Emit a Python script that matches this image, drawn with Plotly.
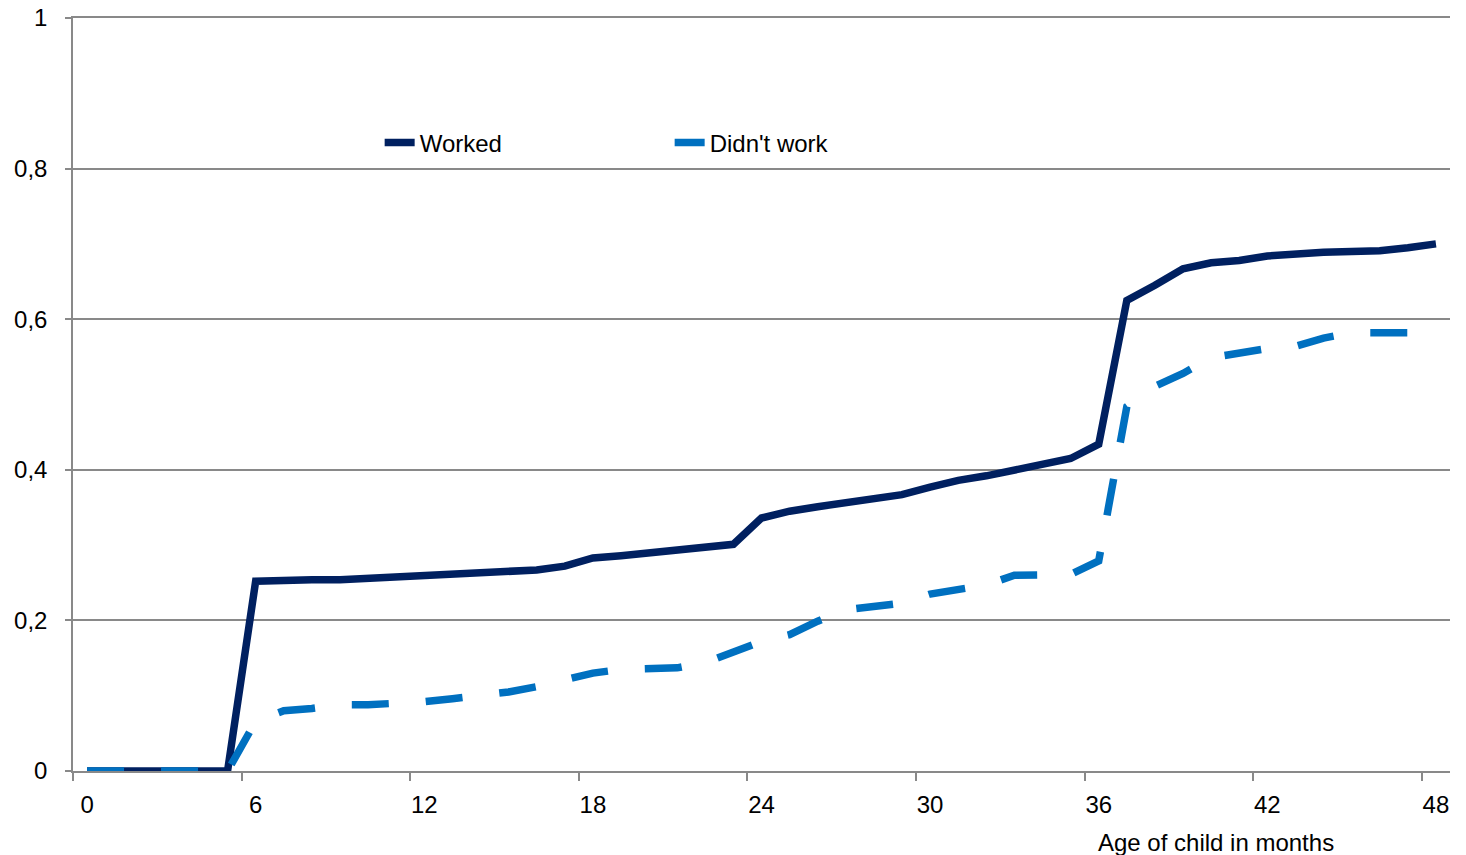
import plotly.graph_objects as go

months = list(range(0, 49))
worked = [0, 0, 0, 0, 0, 0,
          0.252, 0.254, 0.254, 0.254, 0.256, 0.257, 0.260, 0.262, 0.262, 0.264,
          0.267, 0.272, 0.283, 0.286, 0.290, 0.295, 0.297, 0.301, 0.336, 0.345,
          0.351, 0.357, 0.362, 0.367, 0.377, 0.386, 0.392, 0.400, 0.406, 0.415,
          0.434, 0.625, 0.645, 0.667, 0.675, 0.678, 0.684, 0.687, 0.689, 0.690,
          0.691, 0.695, 0.700]
didnt_work = [0, 0, 0, 0, 0, 0,
              0.066, 0.080, 0.083, 0.088, 0.088, 0.089, 0.092, 0.096, 0.100, 0.105,
              0.112, 0.122, 0.130, 0.135, 0.137, 0.137, 0.144, 0.157, 0.172, 0.181,
              0.199, 0.214, 0.218, 0.223, 0.235, 0.242, 0.247, 0.260, 0.260, 0.261,
              0.279, 0.484, 0.511, 0.528, 0.549, 0.556, 0.561, 0.564, 0.575, 0.582,
              0.582, 0.582, 0.590]

x_tick_vals = [0, 6, 12, 18, 24, 30, 36, 42, 48]
x_tick_text = ["0", "6", "12", "18", "24", "30", "36", "42", "48"]
x_minor_vals = [-0.5, 5.5, 11.5, 17.5, 23.5, 29.5, 35.5, 41.5, 47.5]
y_tick_vals = [0, 0.2, 0.4, 0.6, 0.8, 1]
y_tick_text = ["0", "0,2", "0,4", "0,6", "0,8", "1"]

AXIS = "#898989"

fig = go.Figure()
fig.add_trace(go.Scatter(
    x=months, y=worked, mode="lines", name="Worked",
    line=dict(color="#002060", width=7.5), cliponaxis=False,
))
fig.add_trace(go.Scatter(
    x=months, y=didnt_work, mode="lines", name="Didn't work",
    line=dict(color="#0070C0", width=7.5, dash="37px,37px"), cliponaxis=False,
))

fig.update_layout(
    width=1466, height=855,
    margin=dict(l=73, r=16, t=18, b=84, autoexpand=False),
    paper_bgcolor="white", plot_bgcolor="white",
    font=dict(family="Liberation Sans, Arial, sans-serif", size=24, color="black"),
    showlegend=True,
    legend=dict(
        orientation="h", x=0.2227, y=0.834, xanchor="left", yanchor="middle",
        bgcolor="rgba(0,0,0,0)", font=dict(size=24), entrywidth=245,
    ),
    xaxis=dict(
        range=[-0.5, 48.5], tickmode="array", tickvals=x_tick_vals, ticktext=x_tick_text,
        ticks="", showline=True, mirror=True, linecolor=AXIS, linewidth=1.5, showgrid=False,
        zeroline=False, ticklabelstandoff=11, automargin=False,
        minor=dict(tickmode="array", tickvals=x_minor_vals, ticks="outside",
                   ticklen=8, tickcolor=AXIS, tickwidth=1.5, showgrid=False),
    ),
    yaxis=dict(
        range=[0, 1], tickmode="array", tickvals=y_tick_vals, ticktext=y_tick_text,
        ticks="outside", ticklen=6, tickcolor=AXIS, tickwidth=1.5,
        showline=True, linecolor=AXIS, linewidth=1.5,
        showgrid=True, gridcolor=AXIS, gridwidth=1.5, zeroline=False,
        ticklabelstandoff=13, automargin=False,
    ),
    annotations=[dict(
        text="Age of child in months", xref="paper", yref="paper",
        x=0.830, y=-0.095, xanchor="center", yanchor="middle",
        showarrow=False, font=dict(size=24),
    )],
)

fig.write_html("out.html")
